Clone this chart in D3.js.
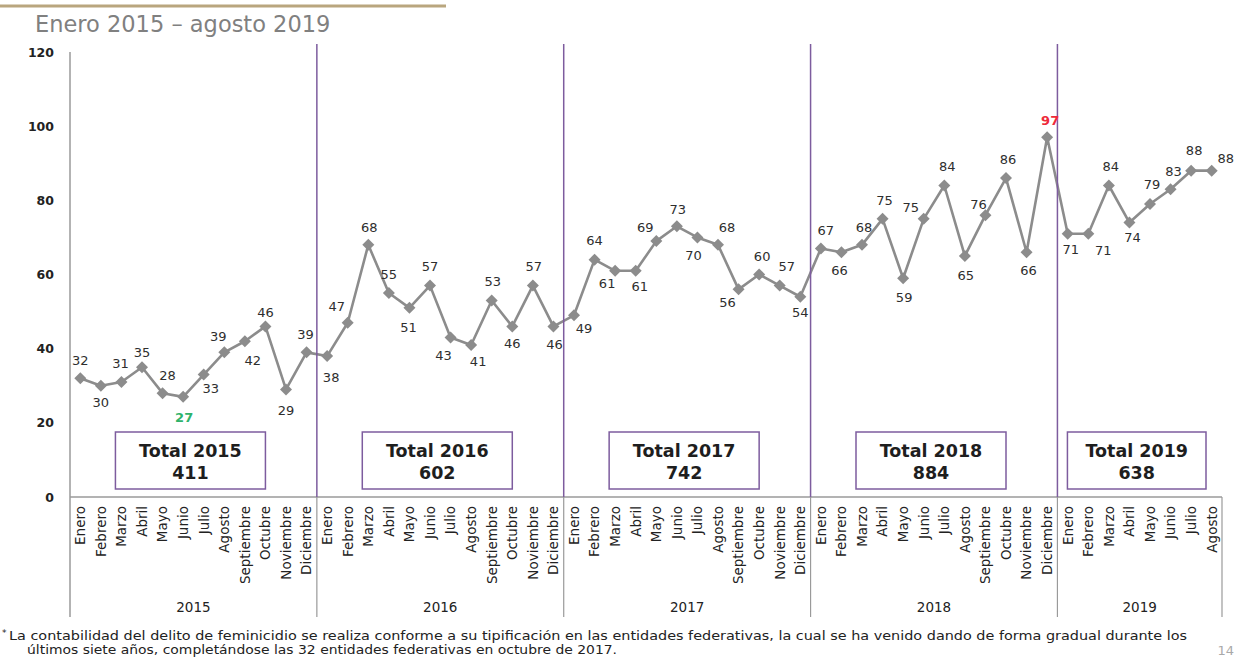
<!DOCTYPE html>
<html>
<head>
<meta charset="utf-8">
<script src="https://cdn.jsdelivr.net/npm/d3@7"></script>
<style>
  html, body { margin: 0; padding: 0; background: #ffffff; }
  svg { display: block; font-family: "DejaVu Sans", "Open Sans", sans-serif; }
</style>
</head>
<body>
<svg id="chart" width="1240" height="660"></svg>
<script>
// ---------------- DATA ----------------
const months = ["Enero","Febrero","Marzo","Abril","Mayo","Junio","Julio","Agosto","Septiembre","Octubre","Noviembre","Diciembre"];
const years = ["2015","2016","2017","2018","2019"];
const values2015 = [32,30,31,35,28,27,33,39,42,46,29,39];
const values2016 = [38,47,68,55,51,57,43,41,53,46,57,46];
const values2017 = [49,64,61,61,69,73,70,68,56,60,57,54];
const values2018 = [67,66,68,75,59,75,84,65,76,86,66,97];
const values2019 = [71,71,84,74,79,83,88,88];
const yearTotals = [411,602,742,884,638];
const yTicks = [0,20,40,60,80,100,120];
const titleText = "Enero 2015 \u2013 agosto 2019";
const footnote1 = "La contabilidad del delito de feminicidio se realiza conforme a su tipificación en las entidades federativas, la cual se ha venido dando de forma gradual durante los";
const footnote2 = "últimos siete años, completándose las 32 entidades federativas en octubre de 2017.";
const pageNumber = "14";

// label placement nudges [dx, dy] relative to each point (layout only)
const labelNudge = [
  [0,-18],[0,17],[-1,-19],[0,-15],[5,-18],[1,20],[7,14],[-6,-16],[8,19],[0,-14],[0,21],[-1,-18],
  [4,21],[-11,-16],[1,-18],[0,-19],[-1,19],[0,-19],[-7,18],[7,16],[1,-19],[0,17],[1,-19],[1,18],
  [10,13],[0,-19],[-8,13],[4,16],[-11,-14],[1,-17],[-4,18],[9,-18],[-11,13],[3,-18],[7,-19],[0,16],
  [5,-18],[-2,18],[2,-18],[2,-19],[1,19],[-13,-12],[3,-19],[1,19],[-7,-11],[2,-19],[2,18],[3,-17],
  [3,16],[15,17],[2,-19],[3,15],[2,-20],[3,-18],[3,-20],[14,-12]
];

(function draw() {
  const seriesByYear = [values2015, values2016, values2017, values2018, values2019];
  const points = [];
  seriesByYear.forEach((vals, yi) => {
    vals.forEach((v, mi) => points.push({ key: years[yi] + "-" + months[mi], year: years[yi], month: months[mi], value: v }));
  });
  const allVals = points.map(p => p.value);
  const minV = d3.min(allVals), maxV = d3.max(allVals);

  const svg = d3.select("#chart");
  const mLeft = 70, mRight = 1222, mTop = 52, mBottom = 497, axisBottomY = 617;

  const x = d3.scaleBand().domain(points.map(p => p.key)).range([mLeft, mRight]).paddingInner(0).paddingOuter(0);
  const y = d3.scaleLinear().domain([0, 120]).range([mBottom, mTop]);
  const cx = k => x(k) + x.bandwidth() / 2;

  // Header gold line and title
  svg.append("line").attr("x1", 0).attr("x2", 446).attr("y1", 6).attr("y2", 6)
    .attr("stroke", "#b9a67e").attr("stroke-width", 3);
  svg.append("text").attr("x", 35).attr("y", 32).text(titleText)
    .attr("font-size", 22.5).attr("fill", "#808080");

  const yearStarts = years.map(yr => points.find(p => p.year === yr).key);
  const yearEnds = years.map(yr => points.filter(p => p.year === yr).slice(-1)[0].key);
  const yearX0 = yearStarts.map(k => x(k));
  const yearX1 = yearEnds.map(k => x(k) + x.bandwidth());

  // Total boxes
  const boxG = svg.append("g");
  years.forEach((yr, i) => {
    const bw = yearX1[i] - yearX0[i];
    const w = Math.min(150, bw - 26);
    const c = (yearX0[i] + yearX1[i]) / 2 - 3;
    boxG.append("rect").attr("x", c - w / 2).attr("y", 432).attr("width", w).attr("height", 57)
      .attr("fill", "#ffffff").attr("stroke", "#7d5c9e").attr("stroke-width", 1.5);
    boxG.append("text").attr("x", c).attr("y", 457).attr("text-anchor", "middle")
      .attr("font-size", 17.5).attr("font-weight", 700).attr("fill", "#1e1e1e").text("Total " + yr);
    boxG.append("text").attr("x", c).attr("y", 479).attr("text-anchor", "middle")
      .attr("font-size", 17.5).attr("font-weight", 700).attr("fill", "#1e1e1e").text(yearTotals[i]);
  });

  // Y axis
  const yAxis = svg.append("g").attr("transform", `translate(${mLeft},0)`)
    .call(d3.axisLeft(y).tickValues(yTicks).tickSize(0).tickPadding(16).tickFormat(d3.format("d")));
  yAxis.select(".domain").remove();
  yAxis.selectAll("text").attr("font-size", 12.5).attr("font-weight", 700).attr("fill", "#222")
    .attr("font-family", "'DejaVu Sans', sans-serif");

  const gray = "#9a9a9a";
  svg.append("line").attr("x1", mLeft).attr("x2", mLeft).attr("y1", mTop).attr("y2", axisBottomY)
    .attr("stroke", gray).attr("stroke-width", 1.5);
  svg.append("line").attr("x1", mLeft).attr("x2", mRight).attr("y1", mBottom).attr("y2", mBottom)
    .attr("stroke", gray).attr("stroke-width", 1.5);
  yearX1.forEach(xx => {
    svg.append("line").attr("x1", xx).attr("x2", xx).attr("y1", mBottom).attr("y2", axisBottomY)
      .attr("stroke", gray).attr("stroke-width", 1.2);
  });

  // X axis (month labels)
  const xAxis = svg.append("g").attr("transform", `translate(0,${mBottom})`)
    .call(d3.axisBottom(x).tickSize(0).tickFormat(k => k.split("-")[1]));
  xAxis.select(".domain").remove();
  xAxis.selectAll("text")
    .attr("transform", "rotate(-90)")
    .attr("text-anchor", "end")
    .attr("x", -9).attr("y", 0).attr("dy", "0.36em")
    .attr("font-size", 13.5).attr("fill", "#222")
    .attr("font-family", "'DejaVu Sans', sans-serif");

  years.forEach((yr, i) => {
    svg.append("text").attr("x", (yearX0[i] + yearX1[i]) / 2).attr("y", 612)
      .attr("text-anchor", "middle").attr("font-size", 13.5)
      .attr("fill", "#222").text(yr);
  });

  // Line
  const lineColor = "#8c8c8c";
  svg.append("path").datum(points)
    .attr("fill", "none").attr("stroke", lineColor).attr("stroke-width", 2.6)
    .attr("stroke-linejoin", "round")
    .attr("d", d3.line().x(p => cx(p.key)).y(p => y(p.value)));

  // Purple year dividers
  yearX1.slice(0, -1).forEach(xx => {
    svg.append("line").attr("x1", xx).attr("x2", xx).attr("y1", 44).attr("y2", mBottom)
      .attr("stroke", "#7d5c9e").attr("stroke-width", 1.5);
  });

  // Markers (square rotated 45deg = diamond)
  svg.append("g").selectAll("path").data(points).join("path")
    .attr("transform", p => `translate(${cx(p.key)},${y(p.value)}) rotate(45)`)
    .attr("d", d3.symbol(d3.symbolSquare, 72))
    .attr("fill", lineColor);

  // Data labels
  svg.append("g").selectAll("text").data(points).join("text")
    .attr("x", (p, i) => cx(p.key) + labelNudge[i][0])
    .attr("y", (p, i) => y(p.value) + labelNudge[i][1])
    .attr("dy", "0.36em")
    .attr("text-anchor", "middle")
    .attr("font-size", 13)
    .attr("font-weight", p => (p.value === minV || p.value === maxV) ? 700 : 400)
    .attr("fill", p => p.value === minV ? "#2fb36b" : (p.value === maxV ? "#ee2a3a" : "#2e2e2e"))
    .text(p => p.value);

  // Footnote
  svg.append("text").attr("x", 2).attr("y", 636).attr("font-size", 9).attr("fill", "#222").text("*");
  svg.append("text").attr("x", 9).attr("y", 640).attr("font-size", 11.5).attr("fill", "#222")
    .attr("textLength", 1178).attr("lengthAdjust", "spacingAndGlyphs").text(footnote1);
  svg.append("text").attr("x", 27).attr("y", 654).attr("font-size", 11.5).attr("fill", "#222")
    .attr("textLength", 590).attr("lengthAdjust", "spacingAndGlyphs").text(footnote2);
  svg.append("text").attr("x", 1234).attr("y", 655).attr("text-anchor", "end")
    .attr("font-size", 13).attr("fill", "#a9a9a9").text(pageNumber);
})();
</script>
</body>
</html>
